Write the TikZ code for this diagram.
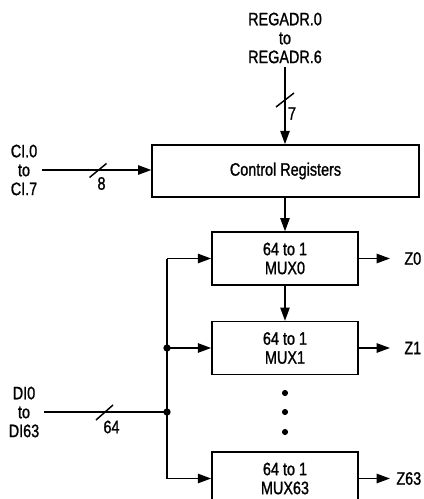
\documentclass[tikz,border=0pt]{standalone}
\usepackage{fontspec}
\setmainfont{Liberation Sans}[FakeStretch=0.8,FakeBold=1.2]
\usetikzlibrary{arrows.meta,positioning}

\begin{document}
\begin{tikzpicture}[x=0.75pt,y=-0.75pt,>={Triangle[length=10pt,width=7pt]},
    line width=1.2pt,
    every node/.style={font=\fontsize{13.5}{14.2}\selectfont},
    regbox/.style={draw,minimum width=200pt,minimum height=39pt,inner sep=0pt},
    muxbox/.style={draw,minimum width=109.5pt,minimum height=39.5pt,align=center,inner sep=0pt},
    lbl/.style={align=center,inner xsep=3pt,inner ysep=0pt},
    junc/.style={circle,fill,inner sep=0pt,minimum size=5.5pt}]
  \useasboundingbox (0,0) rectangle (424,499);

  % blocks
  \node[regbox] (creg) at (285.5,171) {Control Registers};
  \node[muxbox] (mux0) at (285,258.5) {64 to 1\\MUX0};
  \node[muxbox] (mux1) at (285,348) {64 to 1\\MUX1};
  \node[muxbox] (mux63) at (285,478.5) {64 to 1\\MUX63};

  % input labels
  \node[lbl] (regadr) at (285,38) {REGADR.0\\to\\REGADR.6};
  \node[lbl] (ci) at (24,170) {CI.0\\to\\CI.7};
  \node[lbl] (di) at (24,412) {DI0\\to\\DI63};

  % control inputs
  \draw[->,shorten <=2pt] (regadr.south) -- (creg.north -| regadr.south);
  \draw[->] (ci.east) -- (ci.east -| creg.west);
  \draw[->] (mux0.north |- creg.south) -- (mux0.north);
  \draw[->] (mux0.south) -- (mux1.north);

  % data bus
  \coordinate (bus) at (167,412);
  \draw (di.east) -- (bus);
  \draw (bus |- mux0.west) -- (bus |- mux63.west);
  \draw[->] (bus |- mux0.west) -- (mux0.west);
  \draw[->] (bus |- mux1.west) -- (mux1.west);
  \draw[->] (bus |- mux63.west) -- (mux63.west);
  \node[junc] (j1) at (bus |- mux1.west) {};
  \node[junc] (j2) at (bus) {};

  % bus width marks
  \draw[line width=1.1pt] (285,100) ++(-9,7) -- ++(18,-14);
  \node[inner sep=0pt] (w7) at (292,113.5) {7};
  \draw[line width=1.1pt] (98,170.5) ++(-8.5,7) -- ++(17,-14);
  \node[inner sep=0pt] (w8) at (101.5,183.5) {8};
  \draw[line width=1.1pt] (104.5,412.5) ++(-8.5,7.5) -- ++(17,-15);
  \node[inner sep=0pt] (w64) at (111.5,427) {64};

  % more muxes
  \foreach \y in {393,412,432}
    \fill (285,\y) circle (2.3pt);

  % outputs
  \foreach \m/\z/\n in {mux0/Z0/z0,mux1/Z1/z1,mux63/Z63/z63} {
    \coordinate (\n end) at (\m.east -| 390,0);
    \draw[->] (\m.east) -- (\n end);
    \node[anchor=east,inner sep=0pt] (\n) at (\m.east -| 422,0) {\z};
  }
\end{tikzpicture}
\end{document}
